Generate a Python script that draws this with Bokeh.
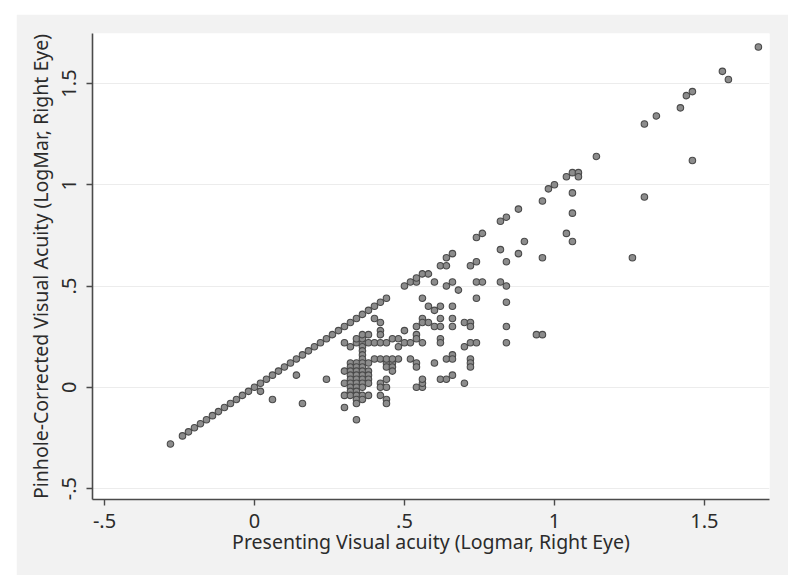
from bokeh.plotting import figure
from bokeh.models import FixedTicker
from bokeh.embed import file_html
from bokeh.resources import INLINE

# Presenting (x) and pinhole-corrected (y) visual acuity, LogMar, right eye
presenting = [
    -0.28, -0.24, -0.22, -0.20, -0.18, -0.16, -0.14, -0.12, -0.10, -0.08, -0.06, -0.04,
    -0.02, 0.00, 0.02, 0.04, 0.06, 0.08, 0.10, 0.12, 0.14, 0.16, 0.18, 0.20, 0.22, 0.24,
    0.26, 0.28, 0.30, 0.32, 0.34, 0.36, 0.38, 0.40, 0.42, 0.44,
    0.50, 0.52, 0.54, 0.54, 0.56, 0.58, 0.64, 0.66, 0.74, 0.76, 0.82, 0.84, 0.88, 0.96,
    0.98, 1.00, 1.04, 1.06, 1.08, 1.08, 1.14, 1.30, 1.34, 1.42, 1.44, 1.46, 1.56, 1.58, 1.68,
    1.46, 1.30, 1.26, 1.06, 1.06, 1.04, 1.06, 0.90, 0.82, 0.88, 0.84, 0.96, 0.62, 0.64,
    0.74, 0.72, 0.66, 0.64, 0.68, 0.74, 0.76, 0.82, 0.84, 0.60, 0.56, 0.74, 0.84, 0.58,
    0.60, 0.62, 0.66,
    0.56, 0.56, 0.58, 0.60, 0.62, 0.62, 0.66, 0.66, 0.70, 0.72, 0.72, 0.84, 0.54, 0.50,
    0.54, 0.54, 0.62, 0.62, 0.70, 0.72, 0.74, 0.84, 0.94, 0.96,
    0.48, 0.52, 0.54, 0.54, 0.60, 0.64, 0.66, 0.66, 0.72, 0.72, 0.72,
    0.54, 0.56, 0.56, 0.56, 0.62, 0.64, 0.66, 0.70,
    0.02, 0.06, 0.16, 0.14, 0.24,
    0.40, 0.42, 0.42, 0.42,
    0.30, 0.32, 0.34, 0.36, 0.38, 0.40, 0.42, 0.44, 0.46, 0.48, 0.50, 0.52, 0.56, 0.48,
    0.34, 0.36, 0.36, 0.38,
    0.36, 0.36, 0.36, 0.36,
    0.32, 0.34, 0.36, 0.38, 0.40, 0.42, 0.44, 0.46, 0.44, 0.46,
    0.44, 0.46, 0.46,
    0.30, 0.30, 0.30, 0.30,
    0.32, 0.32, 0.32, 0.32, 0.32, 0.32, 0.32, 0.32,
    0.34, 0.34, 0.34, 0.34, 0.34, 0.34, 0.34, 0.34, 0.34, 0.34, 0.34,
    0.36, 0.36, 0.36, 0.36, 0.36, 0.36, 0.36, 0.36,
    0.38, 0.38, 0.38, 0.38, 0.38,
    0.42, 0.42, 0.42,
    0.44, 0.44, 0.44, 0.44,
]
pinhole = [
    -0.28, -0.24, -0.22, -0.20, -0.18, -0.16, -0.14, -0.12, -0.10, -0.08, -0.06, -0.04,
    -0.02, 0.00, 0.02, 0.04, 0.06, 0.08, 0.10, 0.12, 0.14, 0.16, 0.18, 0.20, 0.22, 0.24,
    0.26, 0.28, 0.30, 0.32, 0.34, 0.36, 0.38, 0.40, 0.42, 0.44,
    0.50, 0.52, 0.52, 0.54, 0.56, 0.56, 0.64, 0.66, 0.74, 0.76, 0.82, 0.84, 0.88, 0.92,
    0.98, 1.00, 1.04, 1.06, 1.06, 1.04, 1.14, 1.30, 1.34, 1.38, 1.44, 1.46, 1.56, 1.52, 1.68,
    1.12, 0.94, 0.64, 0.96, 0.86, 0.76, 0.72, 0.72, 0.68, 0.66, 0.62, 0.64, 0.60, 0.60,
    0.62, 0.60, 0.52, 0.50, 0.48, 0.52, 0.52, 0.52, 0.50, 0.52, 0.44, 0.44, 0.42, 0.40,
    0.38, 0.40, 0.40,
    0.34, 0.32, 0.32, 0.30, 0.34, 0.30, 0.34, 0.30, 0.32, 0.32, 0.30, 0.30, 0.30, 0.28,
    0.26, 0.24, 0.24, 0.22, 0.20, 0.22, 0.22, 0.22, 0.26, 0.26,
    0.14, 0.14, 0.12, 0.10, 0.12, 0.14, 0.16, 0.14, 0.14, 0.12, 0.10,
    0.00, 0.00, 0.02, 0.04, 0.04, 0.04, 0.06, 0.02,
    -0.02, -0.06, -0.08, 0.06, 0.04,
    0.34, 0.32, 0.28, 0.26,
    0.22, 0.20, 0.22, 0.22, 0.22, 0.22, 0.22, 0.22, 0.24, 0.24, 0.22, 0.22, 0.22, 0.20,
    0.24, 0.24, 0.26, 0.26,
    0.20, 0.18, 0.16, 0.14,
    0.12, 0.12, 0.12, 0.12, 0.14, 0.14, 0.12, 0.12, 0.14, 0.14,
    0.10, 0.10, 0.08,
    0.08, 0.02, -0.04, -0.10,
    0.10, 0.08, 0.06, 0.04, 0.02, 0.00, -0.02, -0.04,
    0.10, 0.08, 0.06, 0.04, 0.02, 0.00, -0.02, -0.04, -0.06, -0.08, -0.16,
    0.10, 0.08, 0.06, 0.04, 0.02, 0.00, -0.04, -0.06,
    0.08, 0.06, 0.04, 0.02, -0.04,
    0.02, 0.00, -0.04,
    0.04, 0.00, -0.06, -0.08,
]

tick_values = [-0.5, 0, 0.5, 1, 1.5]
tick_labels = ["-.5", "0", ".5", "1", "1.5"]

x_title = "Presenting Visual acuity (Logmar, Right Eye)"
y_title = "Pinhole-Corrected Visual Acuity (LogMar, Right Eye)"

BG = "#f2f2f2"
FONT = "Noto Sans"
TXT = "#2b2b2b"

p = figure(width=772, height=561, output_backend="svg", toolbar_location=None,
           x_range=(-0.54, 1.717), y_range=(-0.554, 1.747),
           min_border_left=76, min_border_right=19, min_border_top=19, min_border_bottom=76)
p.styles = {"margin-left": "16px", "margin-top": "14px"}
p.background_fill_color = "white"
p.border_fill_color = BG
p.outline_line_color = None

p.scatter(presenting, pinhole, size=6.5, marker="circle",
          fill_color="#8c8c8c", line_color="#4a4a4a", line_width=1.1)

for ax in (p.xaxis[0], p.yaxis[0]):
    ax.ticker = FixedTicker(ticks=tick_values)
    ax.major_label_overrides = {v: l for v, l in zip(tick_values, tick_labels)}
    ax.axis_line_color = "#4a4a4a"
    ax.axis_line_width = 1.6
    ax.major_tick_line_color = "#4a4a4a"
    ax.major_tick_line_width = 1.4
    ax.major_tick_out = 6
    ax.major_tick_in = 0
    ax.minor_tick_line_color = None
    ax.major_label_text_font = FONT
    ax.major_label_text_font_size = "20px"
    ax.major_label_text_color = TXT
    ax.axis_label_text_font = FONT
    ax.axis_label_text_font_size = "19.5px"
    ax.axis_label_text_font_style = "normal"
    ax.axis_label_text_color = TXT

p.xaxis[0].axis_label = x_title
p.xaxis[0].major_label_standoff = 8
p.xaxis[0].axis_label_standoff = -3
p.yaxis[0].axis_label = y_title
p.yaxis[0].major_label_orientation = "vertical"
p.yaxis[0].major_label_standoff = 10
p.yaxis[0].axis_label_standoff = 6

p.xgrid.grid_line_color = None
p.ygrid.ticker = FixedTicker(ticks=tick_values)
p.ygrid.grid_line_color = "#ececec"
p.ygrid.grid_line_width = 1

open("out.html", "w").write(file_html(p, INLINE))
